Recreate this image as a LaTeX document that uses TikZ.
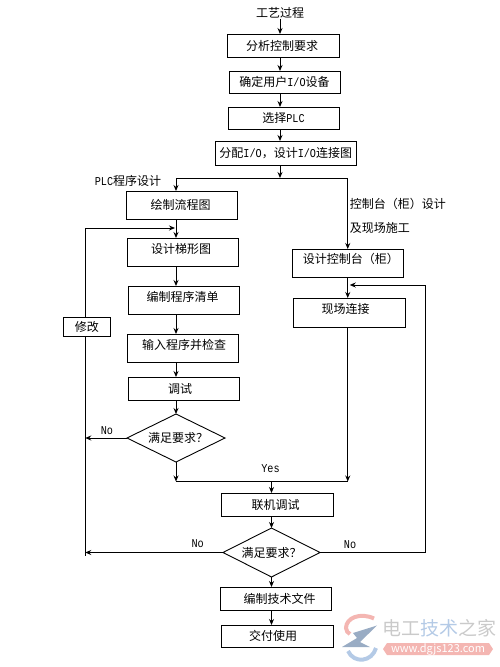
\documentclass[tikz,border=0pt]{standalone}
\usepackage{fontspec}
\setmainfont{Noto Sans CJK SC}
\newfontfamily\mono[FakeStretch=0.85]{Liberation Mono}
\usepackage{tikz}
\usetikzlibrary{shapes,shapes.geometric,arrows.meta,positioning,calc}
\definecolor{tandaabu}{HTML}{CACACA}
\definecolor{tandabiru}{HTML}{B4CAE6}
\definecolor{tandamerah}{HTML}{F4B6B2}
% teks digeser dari tengah kotak
\newcommand{\geser}[3]{\raisebox{\dimexpr#2-4.5pt\relax}[0pt][0pt]{\makebox[0pt]{\hspace*{#1}\hspace*{#1}#3}}}
% tanda baca lebar penuh
\newcommand{\kbuka}{^^^^ff08}
\newcommand{\ktutup}{^^^^ff09}
\newcommand{\koma}{^^^^ff0c}
\newcommand{\tanya}{^^^^ff1f}
\begin{document}
\begin{tikzpicture}[
  x=1pt, y=-1pt,
  font=\fontsize{12pt}{14pt}\selectfont,
  kotak/.style={rectangle, draw=black, line width=0.9pt, inner sep=0pt, outer sep=0pt, minimum width=111pt, minimum height=23pt},
  kotakbesar/.style={kotak, minimum height=28pt},
  putusan/.style={diamond, draw=black, line width=0.9pt, inner sep=0pt, outer sep=0pt, minimum width=98pt, minimum height=48pt},
  teks/.style={inner sep=0pt},
  latin/.style={inner sep=0pt, font=\fontsize{12pt}{14pt}\selectfont\mono},
  arrow/.style={-{Stealth[length=6pt,width=5pt]}, line width=0.9pt},
  garis/.style={line width=0.9pt},
  tanda/.style={inner sep=0pt, font=\fontsize{19pt}{21pt}\selectfont}
]
  \useasboundingbox (0,0) rectangle (500,667);
  \node[teks] (guocheng) at (280,13) {工艺过程};
  \node[kotak, minimum width=112pt] (fenxi) at (283,45.5) {\geser{-1pt}{0pt}{分析控制要求}};
  \node[kotak, minimum height=22pt, below=14pt of fenxi, xshift=1.5pt] (queding) {确定用户{\mono I/O}设备};
  \node[kotak, minimum height=22pt, below=14pt of queding, xshift=-1pt] (xuanze) {选择{\mono PLC}};
  \node[kotak, minimum width=140.5pt, minimum height=24pt, below=12pt of xuanze, xshift=2.25pt] (fenpei) {分配{\mono I/O}\koma 设计{\mono I/O}连接图};
  \coordinate (cabang) at ($(guocheng |- fenpei.south)+(0,13)$);

  \node[kotakbesar, below=26pt of fenpei, xshift=-103.75pt] (liucheng) {\geser{-1.5pt}{0pt}{绘制流程图}};
  \node[kotakbesar, below=19pt of liucheng, xshift=1pt] (tixing) {\geser{-2pt}{3pt}{设计梯形图}};
  \node[kotakbesar, below=20pt of tixing, xshift=1pt] (qingdan) {\geser{-1.5pt}{3pt}{编制程序清单}};
  \node[kotakbesar, below=20pt of qingdan, xshift=-1pt] (shuru) {\geser{1pt}{3pt}{输入程序并检查}};
  \node[kotak, below=15pt of shuru, xshift=1pt] (tiaoshi) {\geser{-4pt}{0pt}{调试}};
  \node[putusan, below=14pt of tiaoshi, xshift=-8pt] (panduan1) {\geser{2pt}{0pt}{满足要求\tanya}};
  \node[kotak, minimum width=47.5pt, minimum height=19pt, left=16.8pt of shuru, yshift=21.5pt] (xiugai) {修改};
  \coordinate (kiri) at ([xshift=-1.7pt]xiugai.center);

  \node[kotakbesar, minimum width=111.5pt, below=84pt of fenpei, xshift=62pt] (kongzhi) {\geser{3pt}{4pt}{设计控制台\kbuka 柜\ktutup}};
  \node[kotakbesar, minimum width=112pt, minimum height=29pt, below=21pt of kongzhi, xshift=1.25pt] (xianchang) {\geser{-3.5pt}{3.5pt}{现场连接}};

  \node[kotak, minimum width=112pt, below=31pt of panduan1, xshift=101pt] (lianji) {\geser{-1.5pt}{0pt}{联机调试}};
  \node[putusan, minimum width=97pt, minimum height=49pt, below=12pt of lianji, xshift=-5.5pt] (panduan2) {\geser{0pt}{-0.5pt}{满足要求\tanya}};
  \node[kotak, below=10pt of panduan2, xshift=4pt] (wenjian) {\geser{4pt}{0pt}{编制技术文件}};
  \node[kotak, minimum width=112pt, minimum height=22pt, below=15pt of wenjian, xshift=1.5pt] (jiaofu) {\geser{-4pt}{0pt}{交付使用}};
  \coordinate (gabung) at ($(panduan2 |- panduan1.south)+(0,19.5)$);
  \coordinate (balik) at ($(kongzhi.south)+(78,8)$);

  \node[teks] (labelplc) at ($(liucheng.north)+(-54,-10)$) {{\mono PLC}程序设计};
  \node[teks, anchor=west] (labelkz1) at ($(kongzhi.north)+(2,-45)$) {控制台\kbuka 柜\ktutup 设计};
  \node[teks, anchor=west] (labelkz2) at ($(kongzhi.north)+(2,-21)$) {及现场施工};
  \node[latin] (no1) at ($(panduan1.west)+(-20,-7.5)$) {No};
  \node[latin] (yes) at ($(gabung)+(-1,-12.5)$) {Yes};
  \node[latin] (no2) at ($(panduan2.west)+(-25.3,-9)$) {No};
  \node[latin] (no3) at ($(panduan2.east)+(30,-7.5)$) {No};

  \draw[arrow] (guocheng.south) -- (guocheng |- fenxi.north);
  \draw[arrow] (guocheng |- fenxi.south) -- (guocheng |- queding.north);
  \draw[arrow] (guocheng |- queding.south) -- (guocheng |- xuanze.north);
  \draw[arrow] (guocheng |- xuanze.south) -- (guocheng |- fenpei.north);
  \draw[arrow] (guocheng |- fenpei.south) -- (cabang);
  \draw[arrow] (cabang) -| (panduan1 |- liucheng.north);
  \draw[arrow] (cabang) -| (kongzhi.north);

  \draw[arrow] (panduan1 |- liucheng.south) -- (panduan1 |- tixing.north);
  \draw[arrow] (panduan1 |- tixing.south) -- (panduan1 |- qingdan.north);
  \draw[arrow] (panduan1 |- qingdan.south) -- (panduan1 |- shuru.north);
  \draw[arrow] (panduan1 |- shuru.south) -- (panduan1 |- tiaoshi.north);
  \draw[arrow] (panduan1 |- tiaoshi.south) -- (panduan1.north);

  \draw[arrow] (kiri |- xiugai.north) |- ($(panduan1 |- liucheng.south)+(-1,9)$);
  \draw[garis] (kiri |- xiugai.south) -- ($(kiri |- panduan2.west)+(0,3)$);
  \draw[arrow] (panduan1.west) -- (kiri |- panduan1.west);
  \draw[arrow] (panduan2.west) -- (kiri |- panduan2.west);

  \draw[arrow] (kongzhi.south) -- (kongzhi |- xianchang.north);
  \draw[arrow] (kongzhi |- xianchang.south) -- (kongzhi |- gabung);
  \draw[arrow] (panduan1.south) -- (panduan1 |- gabung);
  \draw[garis] (panduan1 |- gabung) -- (kongzhi |- gabung);
  \draw[arrow] (gabung) -- (gabung |- lianji.north);
  \draw[arrow] (panduan2 |- lianji.south) -- (panduan2.north);
  \draw[arrow] (panduan2.east) -| (balik) -- ($(kongzhi.south)+(2,8)$);
  \draw[arrow] (panduan2.south) -- (panduan2 |- wenjian.north);
  \draw[arrow] (panduan2 |- wenjian.south) -- (panduan2 |- jiaofu.north);

  % tanda air
  \draw[tandamerah, line width=4pt] (374,618.5) .. controls (360,612) and (346,618) .. (346,628) .. controls (346,631) and (348,633) .. (350,634);
  \fill[tandabiru!85!black] (353,633) -- (377,625.5) -- (360,642) -- (370,647) -- (342,647) -- (357,638) -- cycle;
  \draw[tandabiru, line width=4pt] (348,651) .. controls (354,664) and (372,662) .. (376,648);
  \fill[tandamerah] (383,649) -- (387,643) -- (489,643) -- (493,649) -- (489,655) -- (387,655) -- cycle;
  \node[tanda, anchor=west] (namasitus) at (382,628) {\textcolor{tandaabu}{电工}\textcolor{tandabiru}{技术}\textcolor{tandaabu}{之家}};
  \node[inner sep=0pt, text=white, font=\fontsize{11pt}{13pt}\selectfont] (alamat) at (438,649) {www.dgjs123.com};
\end{tikzpicture}
\end{document}
